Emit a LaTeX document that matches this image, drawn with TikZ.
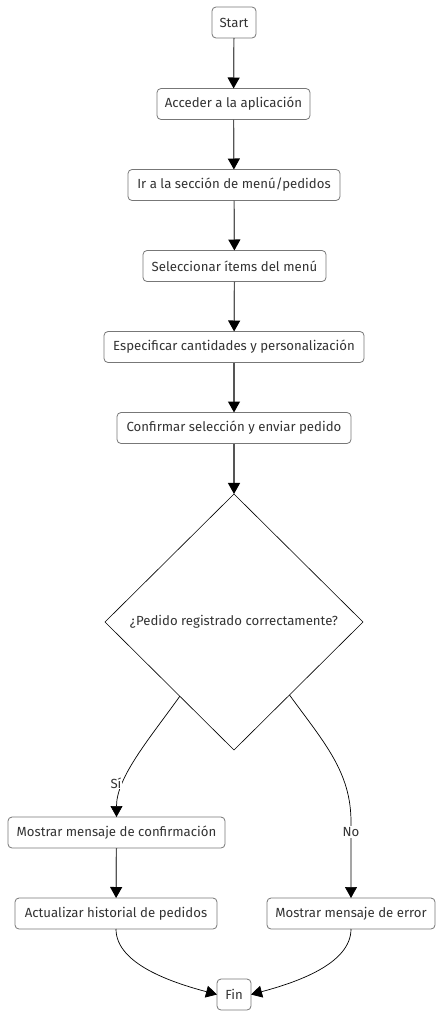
\documentclass[tikz,border=0pt]{standalone}
\usepackage{fontspec}
\setmainfont{Fira Sans}
\usetikzlibrary{shapes.geometric,arrows.meta,calc}
\definecolor{txt}{HTML}{333333}
\definecolor{boxline}{HTML}{777777}
\definecolor{edgeline}{HTML}{555555}
\tikzset{
  box/.style={draw=boxline, line width=0.8pt, rounded corners=4pt, fill=white, text=txt,
    minimum height=31pt, inner xsep=4pt, inner ysep=0pt, outer sep=0pt, align=center},
  dec/.style={draw=black, line width=0.6pt, shape=diamond, text=txt, inner sep=0pt, outer sep=0pt,
    minimum width=258pt, minimum height=256pt},
  flow/.style={draw=edgeline, line width=1.2pt, -{Triangle[width=12pt,length=11pt,color=black]}},
  curvy/.style={draw=black, line width=0.7pt, -{Triangle[width=12pt,length=11pt,color=black]}},
  lbl/.style={fill=white, text=txt, inner sep=1pt}
}
\begin{document}
\begin{tikzpicture}[x=1pt,y=-1pt,font=\fontsize{13.2}{15}\selectfont]
\useasboundingbox (0,0) rectangle (444,1018);
\node[box, minimum width=44pt] (start) at (234,22.5) {Start};
\node[box, minimum width=153pt] (acc) at (233.5,104) {Acceder a la aplicación};
\node[box, minimum width=212pt] (ir) at (234,185) {Ir a la sección de menú/pedidos};
\node[box, minimum width=183pt] (sel) at (234.5,266) {Seleccionar ítems del menú};
\node[box, minimum width=260pt] (esp) at (234,347) {Especificar cantidades y personalización};
\node[box, minimum width=234pt] (conf) at (234,428) {Confirmar selección y enviar pedido};
\node[dec] (d) at (234,622) {¿Pedido registrado correctamente?};
\node[box, minimum width=217pt] (mc) at (116.5,832.5) {Mostrar mensaje de confirmación};
\node[box, minimum width=202pt] (act) at (116,913.5) {Actualizar historial de pedidos};
\node[box, minimum width=168pt] (err) at (351,913.5) {Mostrar mensaje de error};
\node[box, minimum width=34pt] (fin) at (234,994.5) {Fin};
\draw[flow] (start) -- (acc);
\draw[flow] (acc) -- (ir);
\draw[flow] (ir) -- (sel);
\draw[flow] (sel) -- (esp);
\draw[flow] (esp) -- (conf);
\draw[flow] (conf) -- (d);
\coordinate (sl) at ($(d.west)!0.58!(d.south)$);
\coordinate (sr) at ($(d.south)!0.43!(d.east)$);
\draw[curvy] (sl) .. controls +(-30,42) and +(0,-40) .. (mc.north);
\node[lbl] (si) at (116,783) {Sí};
\draw[curvy] (sr) .. controls +(35,48) and +(0,-50) .. (351,822) -- (err.north);
\node[lbl] (no) at (351,832) {No};
\draw[flow] (mc) -- (act);
\draw[curvy] (act.south) .. controls +(0,35) and +(-45,-12) .. (fin.west);
\draw[curvy] (err.south) .. controls +(0,35) and +(45,-12) .. (fin.east);
\end{tikzpicture}
\end{document}
